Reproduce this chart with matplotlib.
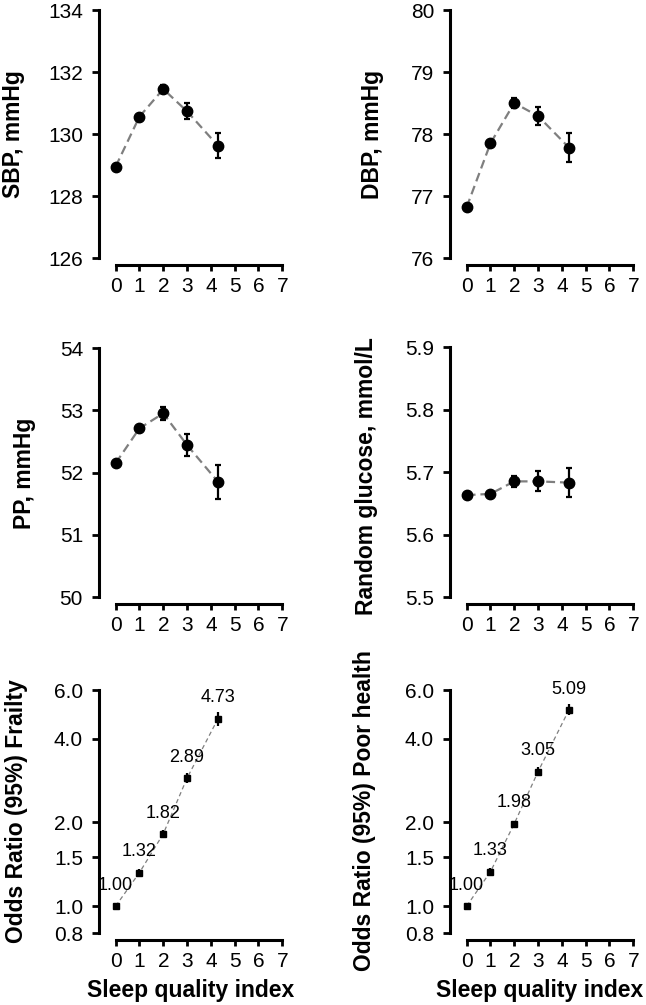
import matplotlib
matplotlib.use("Agg")
import matplotlib.pyplot as plt
from matplotlib.ticker import FixedLocator, FormatStrFormatter, NullLocator
import numpy as np

plt.rcParams['font.family'] = ['Liberation Sans', 'DejaVu Sans']

# ---- data ----
sleep_index = [0, 1, 2, 3, 4.3]
xticks = [0, 1, 2, 3, 4, 5, 6, 7]

sbp = [128.95, 130.56, 131.45, 130.73, 129.62]
sbp_err = [0.05, 0.06, 0.12, 0.26, 0.40]
dbp = [76.82, 77.85, 78.50, 78.29, 77.78]
dbp_err = [0.03, 0.04, 0.08, 0.14, 0.23]
pp = [52.15, 52.71, 52.95, 52.44, 51.85]
pp_err = [0.03, 0.04, 0.10, 0.18, 0.27]
glucose = [5.663, 5.665, 5.685, 5.685, 5.683]
glucose_err = [0.002, 0.003, 0.009, 0.016, 0.023]

frailty_or = [1.00, 1.32, 1.82, 2.89, 4.73]
frailty_lo = [1.00, 1.28, 1.76, 2.77, 4.46]
frailty_hi = [1.00, 1.36, 1.88, 3.01, 5.02]
poor_or = [1.00, 1.33, 1.98, 3.05, 5.09]
poor_lo = [1.00, 1.29, 1.93, 2.94, 4.86]
poor_hi = [1.00, 1.37, 2.03, 3.16, 5.33]

W, H = 646, 1005
fig = plt.figure(figsize=(W / 100, H / 100), dpi=100)

def add_ax(left_px, top_px, bottom_px):
    width_px = 7.7 * 23.8
    return fig.add_axes([left_px / W, 1 - bottom_px / H, width_px / W, (bottom_px - top_px) / H])

def style(ax, ylim, yticks, fmt):
    ax.set_xlim(-0.7, 7.0)
    ax.set_ylim(*ylim)
    for s in ['top', 'right']:
        ax.spines[s].set_visible(False)
    ax.spines['left'].set_linewidth(2.2)
    ax.spines['bottom'].set_linewidth(2.2)
    ax.spines['bottom'].set_position(('outward', 5))
    ax.spines['bottom'].set_bounds(0, 7)
    ax.set_xticks(xticks)
    ax.set_yticks(yticks)
    ax.yaxis.set_minor_locator(NullLocator())
    ax.yaxis.set_major_formatter(FormatStrFormatter(fmt))
    ax.tick_params(axis='both', direction='out', width=2.0, labelsize=15)
    ax.tick_params(axis='y', length=5, pad=6.5)
    ax.tick_params(axis='x', length=4, pad=5)
    ax.patch.set_visible(False)

def top_panel(ax, y, err):
    ax.plot(sleep_index, y, color='#7f7f7f', lw=1.6, dashes=(4, 2.2), zorder=1)
    ax.errorbar(sleep_index, y, yerr=err, fmt='o', color='black', ms=7.5,
                ecolor='black', elinewidth=1.6, capsize=2, capthick=1.6, zorder=3)

def or_panel(ax, orv, lo, hi):
    ax.set_yscale('log')
    ax.plot(sleep_index, orv, color='#7f7f7f', lw=0.9, dashes=(3.5, 2.5), zorder=1)
    orv_a = np.array(orv); lo_a = np.array(lo); hi_a = np.array(hi)
    ax.errorbar(sleep_index, orv, yerr=[orv_a - lo_a, hi_a - orv_a], fmt='s', color='black',
                ms=4.5, ecolor='black', elinewidth=1.6, capsize=0, zorder=3)
    for xv, v in zip(sleep_index, orv):
        ax.annotate(f"{v:.2f}", (xv, v), xytext=(0, 15), textcoords='offset points',
                    ha='center', va='center', fontsize=13)

# Panel 1: SBP
ax1 = add_ax(99, 10, 258)
top_panel(ax1, sbp, sbp_err)
style(ax1, (126, 134), [126, 128, 130, 132, 134], '%d')

# Panel 2: DBP
ax2 = add_ax(450, 10, 258)
top_panel(ax2, dbp, dbp_err)
style(ax2, (76, 80), [76, 77, 78, 79, 80], '%d')

# Panel 3: PP
ax3 = add_ax(99, 348, 597)
top_panel(ax3, pp, pp_err)
style(ax3, (50, 54), [50, 51, 52, 53, 54], '%d')

# Panel 4: glucose
ax4 = add_ax(450, 347, 597)
top_panel(ax4, glucose, glucose_err)
style(ax4, (5.5, 5.9), [5.5, 5.6, 5.7, 5.8, 5.9], '%.1f')

# Panel 5: frailty OR
ax5 = add_ax(99, 690, 933)
or_panel(ax5, frailty_or, frailty_lo, frailty_hi)
style(ax5, (0.8, 6.0), [0.8, 1.0, 1.5, 2.0, 4.0, 6.0], '%.1f')

# Panel 6: poor health OR
ax6 = add_ax(450, 690, 933)
or_panel(ax6, poor_or, poor_lo, poor_hi)
style(ax6, (0.8, 6.0), [0.8, 1.0, 1.5, 2.0, 4.0, 6.0], '%.1f')

def ylab(x_px, y_px, text):
    fig.text(x_px / W, 1 - y_px / H, text, rotation=90, ha='center', va='center',
             fontsize=16.5, fontweight='bold')

ylab(14, 134, 'SBP, mmHg')
ylab(373, 134, 'DBP, mmHg')
ylab(25, 473, 'PP, mmHg')
ylab(366, 476, 'Random glucose, mmol/L')
ylab(17, 811, 'Odds Ratio (95%) Frailty')
ylab(365, 811, 'Odds Ratio (95%) Poor health')

fig.text(191 / W, 1 - 990 / H, 'Sleep quality index', ha='center', va='center',
         fontsize=16.5, fontweight='bold')
fig.text(540 / W, 1 - 990 / H, 'Sleep quality index', ha='center', va='center',
         fontsize=16.5, fontweight='bold')

fig.savefig('out.png', dpi=100, facecolor='white')
